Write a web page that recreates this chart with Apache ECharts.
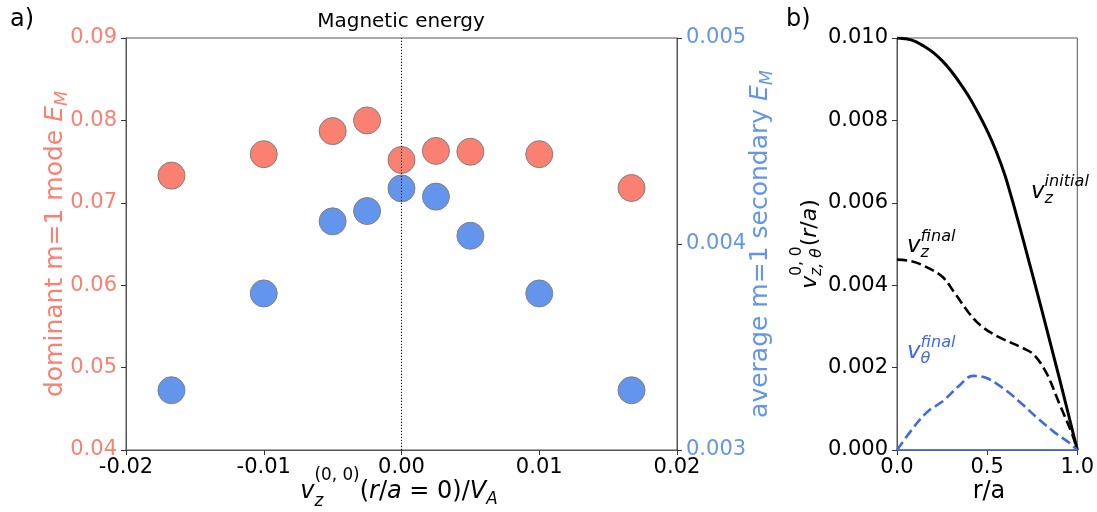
<!DOCTYPE html>
<html><head><meta charset="utf-8">
<script src="https://cdn.jsdelivr.net/npm/echarts@6/dist/echarts.min.js"></script>
<style>html,body{margin:0;padding:0;background:#fff}#c{width:1097px;height:512px}</style>
</head><body><div id="c"></div>
<script>
// ---------------- data ----------------
// panel a
const vzAxis = [-0.0167, -0.01, -0.005, -0.0025, 0, 0.0025, 0.005, 0.01, 0.0167];
const dominantEM = [0.0733, 0.0759, 0.0787, 0.0800, 0.0752, 0.0763, 0.0762, 0.0759, 0.0718];
const secondaryEM = [0.00329, 0.00376, 0.00411, 0.00416, 0.00427, 0.00423, 0.00404, 0.00376, 0.00329];
const zeroLineX = [0, 0];
const zeroLineY = [0.04, 0.09];
const xTickLabelsA = ['-0.02', '-0.01', '0.00', '0.01', '0.02'];
const leftTickLabelsA = ['0.04', '0.05', '0.06', '0.07', '0.08', '0.09'];
const rightTickLabelsA = ['0.003', '0.004', '0.005'];
// panel b
const rInit = [0, 0.05, 0.1, 0.15, 0.2, 0.25, 0.3, 0.35, 0.4, 0.45, 0.5, 0.55, 0.6, 0.65, 0.7, 0.75, 0.8, 0.85, 0.9, 0.95, 1.0];
const vzInitial = [0.01000, 0.00998, 0.00992, 0.00980, 0.00965, 0.00945, 0.00920, 0.00890, 0.00857, 0.00818, 0.00775,
                   0.00725, 0.00665, 0.00590, 0.00510, 0.00428, 0.00345, 0.00260, 0.00175, 0.00088, 0];
const rVzFinal = [0, 0.07, 0.14, 0.25, 0.32, 0.40, 0.47, 0.56, 0.70, 0.76, 0.83, 0.90, 0.97, 1.0];
const vzFinal = [0.00462, 0.00459, 0.00449, 0.00421, 0.00381, 0.00332, 0.00300, 0.00275, 0.00247, 0.00231, 0.00186, 0.00113, 0.00040, 0];
const rVthFinal = [0, 0.11, 0.18, 0.25, 0.34, 0.42, 0.50, 0.60, 0.69, 0.78, 0.87, 0.96, 1.0];
const vthFinal = [0, 0.00065, 0.00097, 0.00117, 0.00154, 0.00180, 0.00174, 0.00146, 0.00113, 0.00077, 0.00044, 0.00016, 0];
const rVthInit = [0, 1];
const vthInitial = [0, 0];
const xTickLabelsB = ['0.0', '0.5', '1.0'];
const yTickLabelsB = ['0.000', '0.002', '0.004', '0.006', '0.008', '0.010'];

// ---------------- styling ----------------
const FONT = '"DejaVu Sans"';
const RED = '#FA8072', BLUE = '#6495ED', ROYAL = '#4169E1';
const SPINE = '#555';
const zip = (a, b) => a.map((v, i) => [v, b[i]]);

const ctx = document.createElement('canvas').getContext('2d');
function fontStr(size, it) { return (it ? 'italic ' : '') + size + 'px ' + FONT; }
function tw(t, size, it) { ctx.font = fontStr(size, it); return ctx.measureText(t).width; }

// math-like text built from pieces
function mathText(parts, o) {
  let cur = 0, gStart = 0, gEnd = 0;
  const items = [];
  parts.forEach(p => {
    const size = o.size * (p.s || 1);
    const w = tw(p.t, size, p.it);
    let x0;
    if (p.stack) { x0 = gStart; gEnd = Math.max(gEnd, x0 + w); cur = gEnd; }
    else { x0 = cur; gStart = x0; gEnd = x0 + w; cur = x0 + w; }
    items.push({ x0, dy: (p.dy || 0) * o.size, size, t: p.t, it: p.it });
  });
  const W = cur;
  const off = o.align === 'center' ? -W / 2 : (o.align === 'right' ? -W : 0);
  return {
    type: 'group', x: o.x, y: o.y, rotation: o.rotation || 0, silent: true,
    children: items.map(k => ({
      type: 'text', x: k.x0 + off, y: k.dy,
      style: { text: k.t, font: fontStr(k.size, k.it), fill: o.color || '#000', align: 'left', verticalAlign: 'middle' }
    }))
  };
}

const tickFont = { fontFamily: FONT, fontSize: 21 };

const option = {
  animation: false,
  backgroundColor: '#fff',
  grid: [
    { left: 126, right: 420, top: 38, bottom: 62, show: true, borderColor: SPINE, borderWidth: 1, backgroundColor: 'transparent' },
    { left: 897, right: 16, top: 38, bottom: 62, show: true, borderColor: SPINE, borderWidth: 1, backgroundColor: 'transparent' }
  ],
  xAxis: [
    { type: 'value', gridIndex: 0, min: -0.02, max: 0.02, interval: 0.01,
      axisLine: { show: true, onZero: false, lineStyle: { color: SPINE } },
      axisTick: { show: true, length: 5, lineStyle: { color: '#333' } },
      splitLine: { show: false },
      axisLabel: Object.assign({ color: '#000', margin: 7, showMinLabel: true, showMaxLabel: true, formatter: (v, i) => xTickLabelsA[i] }, tickFont) },
    { type: 'value', gridIndex: 1, min: 0, max: 1, interval: 0.5,
      axisLine: { show: true, onZero: false, lineStyle: { color: SPINE } },
      axisTick: { show: true, length: 5, lineStyle: { color: '#333' } },
      splitLine: { show: false },
      axisLabel: Object.assign({ color: '#000', margin: 7, showMinLabel: true, showMaxLabel: true, formatter: (v, i) => xTickLabelsB[i] }, tickFont) }
  ],
  yAxis: [
    { type: 'value', gridIndex: 0, min: 0.04, max: 0.09, interval: 0.01, position: 'left',
      axisLine: { show: true, onZero: false, lineStyle: { color: SPINE } },
      axisTick: { show: true, length: 5, lineStyle: { color: '#333' } },
      splitLine: { show: false },
      axisLabel: Object.assign({ color: RED, margin: 9, showMinLabel: true, showMaxLabel: true, formatter: (v, i) => leftTickLabelsA[i] }, tickFont) },
    { type: 'value', gridIndex: 0, min: 0.003, max: 0.005, interval: 0.001, position: 'right',
      axisLine: { show: true, onZero: false, lineStyle: { color: SPINE } },
      axisTick: { show: true, length: 5, lineStyle: { color: '#333' } },
      splitLine: { show: false },
      axisLabel: Object.assign({ color: BLUE, margin: 9, showMinLabel: true, showMaxLabel: true, formatter: (v, i) => rightTickLabelsA[i] }, tickFont) },
    { type: 'value', gridIndex: 1, min: 0, max: 0.01, interval: 0.002, position: 'left',
      axisLine: { show: true, onZero: false, lineStyle: { color: SPINE } },
      axisTick: { show: true, length: 5, lineStyle: { color: '#333' } },
      splitLine: { show: false },
      axisLabel: Object.assign({ color: '#000', margin: 9, showMinLabel: true, showMaxLabel: true, formatter: (v, i) => yTickLabelsB[i] }, tickFont) }
  ],
  series: [
    { type: 'scatter', xAxisIndex: 0, yAxisIndex: 0, z: 2, symbolSize: 27,
      itemStyle: { color: RED, borderColor: '#808080', borderWidth: 1, opacity: 1 },
      data: zip(vzAxis, dominantEM) },
    { type: 'scatter', xAxisIndex: 0, yAxisIndex: 1, z: 3, symbolSize: 27,
      itemStyle: { color: BLUE, borderColor: '#808080', borderWidth: 1, opacity: 1 },
      data: zip(vzAxis, secondaryEM) },
    { type: 'line', xAxisIndex: 0, yAxisIndex: 0, z: 5, showSymbol: false, symbol: 'none',
      lineStyle: { color: '#000', width: 1, type: [1.2, 1.8] },
      data: zip(zeroLineX, zeroLineY) },
    { type: 'line', xAxisIndex: 1, yAxisIndex: 2, z: 3, symbol: 'none', smooth: 0.2,
      lineStyle: { color: '#000', width: 3 }, data: zip(rInit, vzInitial) },
    { type: 'line', xAxisIndex: 1, yAxisIndex: 2, z: 3, symbol: 'none', clip: false,
      lineStyle: { color: ROYAL, width: 1.6 }, data: zip(rVthInit, vthInitial) },
    { type: 'line', xAxisIndex: 1, yAxisIndex: 2, z: 3, symbol: 'none', smooth: 0.35,
      lineStyle: { color: '#000', width: 2.6, type: [10, 4.5] }, data: zip(rVzFinal, vzFinal) },
    { type: 'line', xAxisIndex: 1, yAxisIndex: 2, z: 3, symbol: 'none', smooth: 0.35,
      lineStyle: { color: ROYAL, width: 2.6, type: [10, 4.5] }, data: zip(rVthFinal, vthFinal) }
  ],
  graphic: [
    { type: 'text', x: 10, y: 20, style: { text: 'a)', font: fontStr(24), fill: '#000', align: 'left', verticalAlign: 'middle' } },
    { type: 'text', x: 786, y: 20, style: { text: 'b)', font: fontStr(24), fill: '#000', align: 'left', verticalAlign: 'middle' } },
    { type: 'text', x: 401, y: 22, style: { text: 'Magnetic energy', font: fontStr(20), fill: '#000', align: 'center', verticalAlign: 'middle' } },
    mathText([{ t: 'v', it: 1 }, { t: 'z', it: 1, s: .7, dy: .42 }, { t: '(0, 0)', s: .7, dy: -.7, stack: 1 },
              { t: '(' }, { t: 'r', it: 1 }, { t: '/' }, { t: 'a', it: 1 }, { t: ' = 0)/' }, { t: 'V', it: 1 }, { t: 'A', it: 1, s: .7, dy: .3 }],
             { size: 24, x: 399, y: 492, align: 'center' }),
    mathText([{ t: 'dominant m=1 mode ' }, { t: 'E', it: 1 }, { t: 'M', it: 1, s: .7, dy: .3 }],
             { size: 25, x: 55, y: 244, align: 'center', rotation: Math.PI / 2, color: RED }),
    mathText([{ t: 'average m=1 secondary ' }, { t: 'E', it: 1 }, { t: 'M', it: 1, s: .7, dy: .3 }],
             { size: 25, x: 760, y: 244, align: 'center', rotation: Math.PI / 2, color: BLUE }),
    mathText([{ t: 'r/a' }], { size: 24, x: 989, y: 492, align: 'center' }),
    mathText([{ t: 'v', it: 1 }, { t: '0, 0', s: .7, dy: -.6 }, { t: 'z, θ', it: 1, s: .7, dy: .3, stack: 1 },
              { t: '(' }, { t: 'r', it: 1 }, { t: '/' }, { t: 'a', it: 1 }, { t: ')' }],
             { size: 22, x: 810, y: 244, align: 'center', rotation: Math.PI / 2 }),
    mathText([{ t: 'v', it: 1 }, { t: 'z', it: 1, s: .7, dy: .28 }, { t: 'initial', it: 1, s: .7, dy: -.44, stack: 1 }],
             { size: 23, x: 1031, y: 192, align: 'left' }),
    mathText([{ t: 'v', it: 1 }, { t: 'z', it: 1, s: .7, dy: .28 }, { t: 'final', it: 1, s: .7, dy: -.42, stack: 1 }],
             { size: 23, x: 907, y: 246, align: 'left' }),
    mathText([{ t: 'v', it: 1, }, { t: 'θ', it: 1, s: .7, dy: .3 }, { t: 'final', it: 1, s: .7, dy: -.42, stack: 1 }],
             { size: 23, x: 907, y: 352, align: 'left', color: ROYAL })
  ]
};

const chart = echarts.init(document.getElementById('c'), null, { renderer: 'canvas' });
chart.setOption(option);
</script>
</body></html>
